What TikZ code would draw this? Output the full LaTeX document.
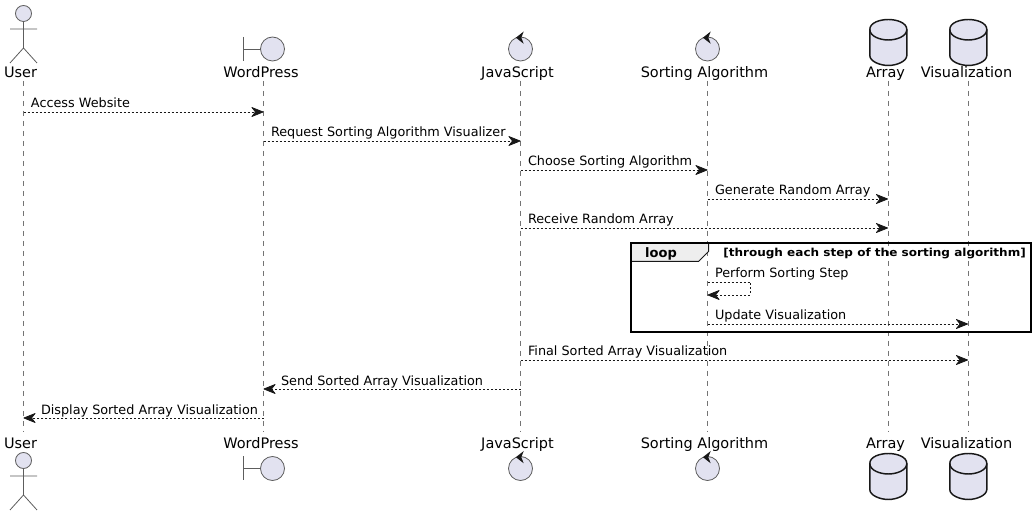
\documentclass[tikz,border=0pt]{standalone}
\usepackage{fontspec}
\setmainfont{DejaVu Sans}
\usetikzlibrary{arrows.meta}
\definecolor{partfill}{HTML}{E2E2F0}
\definecolor{ink}{HTML}{181818}
\definecolor{tabfill}{HTML}{EEEEEE}
\tikzset{
  x=0.75pt,y=-0.75pt,
  lifeline/.style={draw=ink!60,line width=0.45pt,dash pattern=on 3.75pt off 3.75pt},
  msg/.style={draw=ink,line width=0.55pt,dash pattern=on 1.5pt off 1.5pt,
    -{Stealth[length=10pt,width=8pt,inset=3.2pt,fill=ink,round=false,sep=0pt]}},
  msgtext/.style={anchor=base west,inner sep=0pt,outer sep=0pt,font=\fontsize{9.6pt}{11pt}\selectfont,text=black},
  parttext/.style={anchor=base,inner sep=0pt,outer sep=0pt,font=\fontsize{10.85pt}{13pt}\selectfont,text=black},
  stick/.style={draw=ink!70,line width=0.6pt,fill=partfill},
  circ/.style={draw=ink!70,line width=0.6pt,fill=partfill},
  db/.style={draw=ink,line width=1.1pt,fill=partfill},
  ctrlhead/.style={fill=ink,draw=none},
}
\newcommand{\actorshape}[2]{%
  \draw[stick] (#1,#2+8) circle[radius=6pt];
  \draw[stick,fill=none] (#1,#2+16) -- (#1,#2+42.5) (#1-13.5,#2+23.5) -- (#1+13.5,#2+23.5)
     (#1-13.5,#2+57.5) -- (#1,#2+42.5) -- (#1+13.5,#2+57.5);
}
\newcommand{\boundaryshape}[2]{%
  \draw[stick,fill=none] (#1-20,#2-12) -- (#1-20,#2+12) (#1-20,#2) -- (#1-3,#2);
  \draw[circ] (#1+9,#2) circle[radius=9pt];
}
\newcommand{\controlshape}[2]{%
  \draw[circ] (#1,#2) circle[radius=9pt];
  \fill[ctrlhead] (#1+3.2,#2-17.5) -- (#1-4.6,#2-11.3) -- (#1+3.2,#2-5.2) -- (#1+0.8,#2-11.3) -- cycle;
}
\newcommand{\dbshape}[2]{%
  \draw[db] (#1-18.5,#2+10) -- (#1-18.5,#2+36) .. controls (#1-18.5,#2+42) and (#1-8,#2+46) .. (#1,#2+46)
     .. controls (#1+8,#2+46) and (#1+18.5,#2+42) .. (#1+18.5,#2+36) -- (#1+18.5,#2+10)
     .. controls (#1+18.5,#2+3) and (#1+8,#2) .. (#1,#2)
     .. controls (#1-8,#2) and (#1-18.5,#2+3) .. (#1-18.5,#2+10) -- cycle;
  \draw[db,fill=none] (#1-18.5,#2+10) .. controls (#1-18.5,#2+17) and (#1-8,#2+20.5) .. (#1,#2+20.5)
     .. controls (#1+8,#2+20.5) and (#1+18.5,#2+17) .. (#1+18.5,#2+10);
}
\begin{document}
\begin{tikzpicture}
\useasboundingbox[fill=white] (0,0) rectangle (1036,516);
% lifeline ends
\coordinate (uT) at (23.5,81);  \coordinate (uB) at (23.5,432);
\coordinate (wT) at (263.5,81); \coordinate (wB) at (263.5,432);
\coordinate (jT) at (520.5,81); \coordinate (jB) at (520.5,432);
\coordinate (sT) at (707.5,81); \coordinate (sB) at (707.5,432);
\coordinate (aT) at (888,81);   \coordinate (aB) at (888,432);
\coordinate (vT) at (968,81);   \coordinate (vB) at (968,432);
\foreach \a/\b in {uT/uB,wT/wB,jT/jB,sT/sB,aT/aB,vT/vB} \draw[lifeline] (\a) -- (\b);
% participants
\actorshape{23.5}{5.5}
\boundaryshape{263.5}{49}
\controlshape{520.5}{49}
\controlshape{707.5}{49}
\dbshape{888.3}{19.5}
\dbshape{968.3}{19.5}
\actorshape{23.5}{452.5}
\boundaryshape{263.5}{468.5}
\controlshape{520.5}{468.5}
\controlshape{707.5}{468.5}
\dbshape{888.3}{453.5}
\dbshape{968.3}{453.5}
\node[parttext] (userT) at (20.5,78) {User};
\node[parttext] (wpT) at (261,78) {WordPress};
\node[parttext] (jsT) at (517.5,78) {JavaScript};
\node[parttext] (saT) at (704.5,78) {Sorting Algorithm};
\node[parttext] (arT) at (885.5,78) {Array};
\node[parttext] (viT) at (966.5,78) {Visualization};
\node[parttext] (userB) at (20.5,449) {User};
\node[parttext] (wpB) at (261,449) {WordPress};
\node[parttext] (jsB) at (517.5,449) {JavaScript};
\node[parttext] (saB) at (704.5,449) {Sorting Algorithm};
\node[parttext] (arB) at (885.5,449) {Array};
\node[parttext] (viB) at (966.5,449) {Visualization};
% loop frame
\coordinate (fTL) at (630.5,243); \coordinate (fBR) at (1031,332);
\fill[tabfill] (630.5,243) -- (708.5,243) -- (708.5,251.5) -- (698.5,261.5) -- (630.5,261.5) -- cycle;
\draw[draw=ink,line width=0.75pt] (708.5,243) -- (708.5,251.5) -- (698.5,261.5) -- (630.5,261.5);
\draw[draw=black,line width=1.5pt] (fTL) rectangle (fBR);
\node[anchor=base,inner sep=0pt,font=\fontsize{9.75pt}{11pt}\selectfont\bfseries] (loopL) at (661,257.5) {loop};
\node[anchor=base west,inner sep=0pt,font=\fontsize{8.25pt}{10pt}\selectfont\bfseries] (guard) at (723,256.5) {\scalebox{1.094}[1]{[through each step of the sorting algorithm]}};
% message rows
\foreach \n/\y in {m1/112,m2/141,m3/170,m4/199,m5/228,m6/282,m6b/295,m7/324,m8/360,m9/389,m10/418}
  \coordinate (\n) at (0,\y);
\coordinate (selfR) at (750,0);
\draw[msg] (uT |- m1) -- (wT |- m1);
\draw[msg] (wT |- m2) -- (jT |- m2);
\draw[msg] (jT |- m3) -- (sT |- m3);
\draw[msg] (sT |- m4) -- (aT |- m4);
\draw[msg] (jT |- m5) -- (aT |- m5);
\draw[msg] (sT |- m6) -- (selfR |- m6) -- (selfR |- m6b) -- (sT |- m6b);
\draw[msg] (sT |- m7) -- (vT |- m7);
\draw[msg] (jT |- m8) -- (vT |- m8);
\draw[msg] (jT |- m9) -- (wT |- m9);
\draw[msg] (wT |- m10) -- (uT |- m10);
\node[msgtext] (t1) at (31,107.5) {Access Website};
\node[msgtext] (t2) at (271,136.5) {Request Sorting Algorithm Visualizer};
\node[msgtext] (t3) at (528,165.5) {Choose Sorting Algorithm};
\node[msgtext] (t4) at (715,194.5) {Generate Random Array};
\node[msgtext] (t5) at (528,223.5) {Receive Random Array};
\node[msgtext] (t6) at (715,277.5) {Perform Sorting Step};
\node[msgtext] (t7) at (715,319.5) {Update Visualization};
\node[msgtext] (t8) at (528,355.5) {Final Sorted Array Visualization};
\node[msgtext] (t9) at (281,385.5) {Send Sorted Array Visualization};
\node[msgtext] (t10) at (41,414.5) {Display Sorted Array Visualization};
\end{tikzpicture}
\end{document}
